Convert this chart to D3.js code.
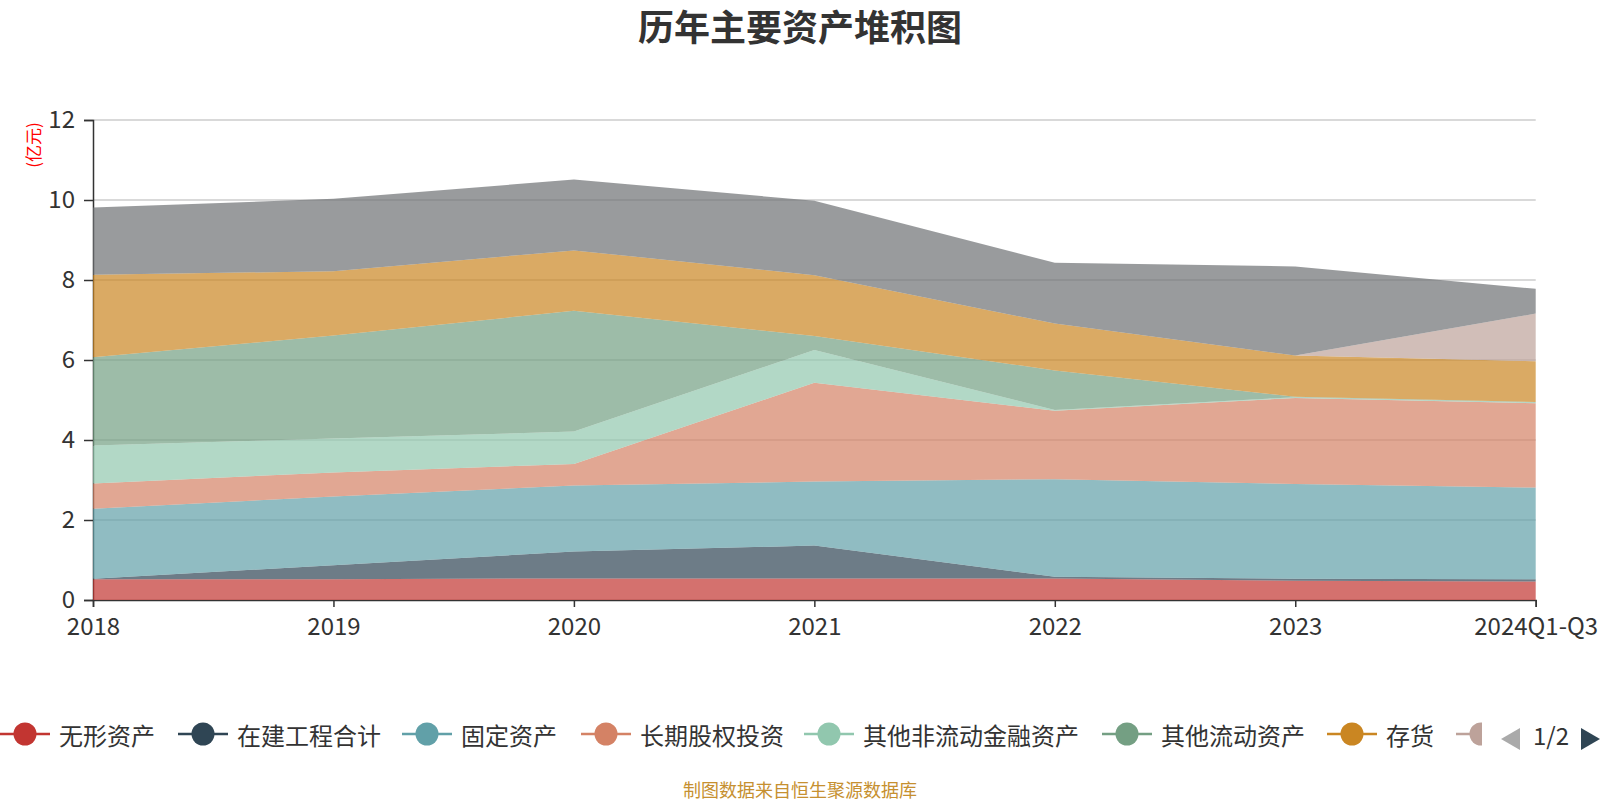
<!DOCTYPE html>
<html><head><meta charset="utf-8">
<script src="https://cdn.jsdelivr.net/npm/d3@7"></script>
<style>body{margin:0;background:#fff}svg{display:block}</style>
</head><body><svg id="c" width="1600" height="800"></svg>
<script>
// ---- data ----
const categories = ["2018","2019","2020","2021","2022","2023","2024Q1-Q3"];
const seriesNames = ["无形资产","在建工程合计","固定资产","长期股权投资","其他非流动金融资产","其他流动资产","存货","交易性金融资产","货币资金"];
const intangible   = [0.52, 0.52, 0.54, 0.54, 0.54, 0.48, 0.46];
const construction = [0.01, 0.35, 0.67, 0.82, 0.04, 0.05, 0.06];
const fixedAssets  = [1.75, 1.72, 1.65, 1.60, 2.44, 2.37, 2.29];
const ltEquity     = [0.63, 0.60, 0.54, 2.47, 1.71, 2.15, 2.11];
const otherNcFin   = [0.95, 0.85, 0.81, 0.82, 0.02, 0.02, 0.02];
const otherCurrent = [2.21, 2.57, 3.02, 0.35, 0.99, 0.01, 0.01];
const inventory    = [2.06, 1.61, 1.51, 1.52, 1.17, 1.03, 1.02];
const tradingFin   = [0.00, 0.00, 0.00, 0.00, 0.00, 0.00, 1.19];
const cash         = [1.68, 1.81, 1.77, 1.86, 1.52, 2.23, 0.62];
const yTicks = [0, 2, 4, 6, 8, 10, 12];
const palette = ["#c23531","#2f4554","#61a0a8","#d48265","#91c7ae","#749f83","#ca8622","#bda29a","#6e7074"];

const seriesValues = [intangible, construction, fixedAssets, ltEquity, otherNcFin, otherCurrent, inventory, tradingFin, cash];
const table = categories.map((c, i) => {
  const row = {cat: c};
  seriesNames.forEach((n, k) => row[n] = seriesValues[k][i]);
  return row;
});
const stacked = d3.stack().keys(seriesNames)(table);

// ---- layout ----
const svg = d3.select("#c");
const FONT = "'Noto Sans CJK SC','Noto Sans',sans-serif";
const plotLeft = 93, plotRight = 1535.7, plotTop = 120, plotBottom = 600;
const x = d3.scalePoint().domain(categories).range([plotLeft, plotRight]).padding(0);
const y = d3.scaleLinear().domain([0, 12]).range([plotBottom, plotTop]);

// title
svg.append("text").attr("x", 800).attr("y", 25).attr("text-anchor", "middle")
  .attr("dominant-baseline", "central").attr("font-family", FONT)
  .attr("font-size", 36).attr("font-weight", "bold").attr("fill", "#333")
  .text("历年主要资产堆积图");

// grid
svg.append("g").selectAll("line").data(yTicks.filter(t => t > 0)).join("line")
  .attr("x1", plotLeft).attr("x2", plotRight).attr("y1", d => y(d)).attr("y2", d => y(d))
  .attr("stroke", "#ccc").attr("stroke-width", 1.5);

// axes
const yAxis = svg.append("g").attr("transform", `translate(${plotLeft},0)`)
  .call(d3.axisLeft(y).tickValues(yTicks).tickSize(9).tickPadding(9).tickFormat(d3.format("d")));
const xAxis = svg.append("g").attr("transform", `translate(0,${plotBottom})`)
  .call(d3.axisBottom(x).tickSize(7).tickPadding(8));
[yAxis, xAxis].forEach(g => {
  g.select(".domain").attr("stroke", "#333").attr("stroke-width", 1.5);
  g.selectAll(".tick line").attr("stroke", "#333").attr("stroke-width", 1.5);
  g.selectAll(".tick text").attr("font-family", FONT).attr("font-size", 24).attr("fill", "#333");
});
xAxis.selectAll(".tick text").attr("dy", "0.85em");

// y axis name
svg.append("text").attr("transform", "translate(32,145) rotate(-90)")
  .attr("text-anchor", "middle").attr("dominant-baseline", "central")
  .attr("font-family", FONT).attr("font-size", 17).attr("fill", "#ff0000").text("(亿元)");

// areas
const area = d3.area().x(d => x(d.data.cat)).y0(d => y(d[0])).y1(d => y(d[1]));
svg.append("g").selectAll("path").data(stacked).join("path")
  .attr("d", area).attr("fill", (d, i) => palette[i]).attr("fill-opacity", 0.7);

// legend (page 1 of 2)
const legendStart = [0, 178, 402, 581, 804, 1102, 1327, 1456, 1600];
const legendClipX = 1482;
const defs = svg.append("defs");
defs.append("clipPath").attr("id", "legclip").append("rect")
  .attr("x", 0).attr("y", 700).attr("width", legendClipX).attr("height", 70);
const leg = svg.append("g").attr("clip-path", "url(#legclip)");
const ly = 734;
seriesNames.forEach((n, i) => {
  if (legendStart[i] >= legendClipX) return;
  const g = leg.append("g").attr("transform", `translate(${legendStart[i]},${ly})`);
  g.append("line").attr("x1", 0).attr("x2", 50).attr("y1", 0).attr("y2", 0)
    .attr("stroke", palette[i]).attr("stroke-width", 2.5);
  g.append("circle").attr("cx", 25).attr("cy", 0).attr("r", 11.5).attr("fill", palette[i]);
  if (legendStart[i] + 59 < legendClipX) {
    g.append("text").attr("x", 59).attr("y", 0).attr("dominant-baseline", "central")
      .attr("font-family", FONT).attr("font-size", 24).attr("fill", "#333").text(n);
  }
});
// pager
svg.append("path").attr("d", "M1501,739 L1520,728 L1520,750 Z").attr("fill", "#aaa");
svg.append("text").attr("x", 1551).attr("y", 734).attr("text-anchor", "middle")
  .attr("dominant-baseline", "central").attr("font-family", FONT)
  .attr("font-size", 24).attr("fill", "#333").text("1/2");
svg.append("path").attr("d", "M1581,728 L1600,739 L1581,750 Z").attr("fill", "#2f4554");

// footer
svg.append("text").attr("x", 800).attr("y", 789).attr("text-anchor", "middle")
  .attr("dominant-baseline", "central").attr("font-family", FONT)
  .attr("font-size", 18).attr("fill", "#c69030").text("制图数据来自恒生聚源数据库");
</script></body></html>
